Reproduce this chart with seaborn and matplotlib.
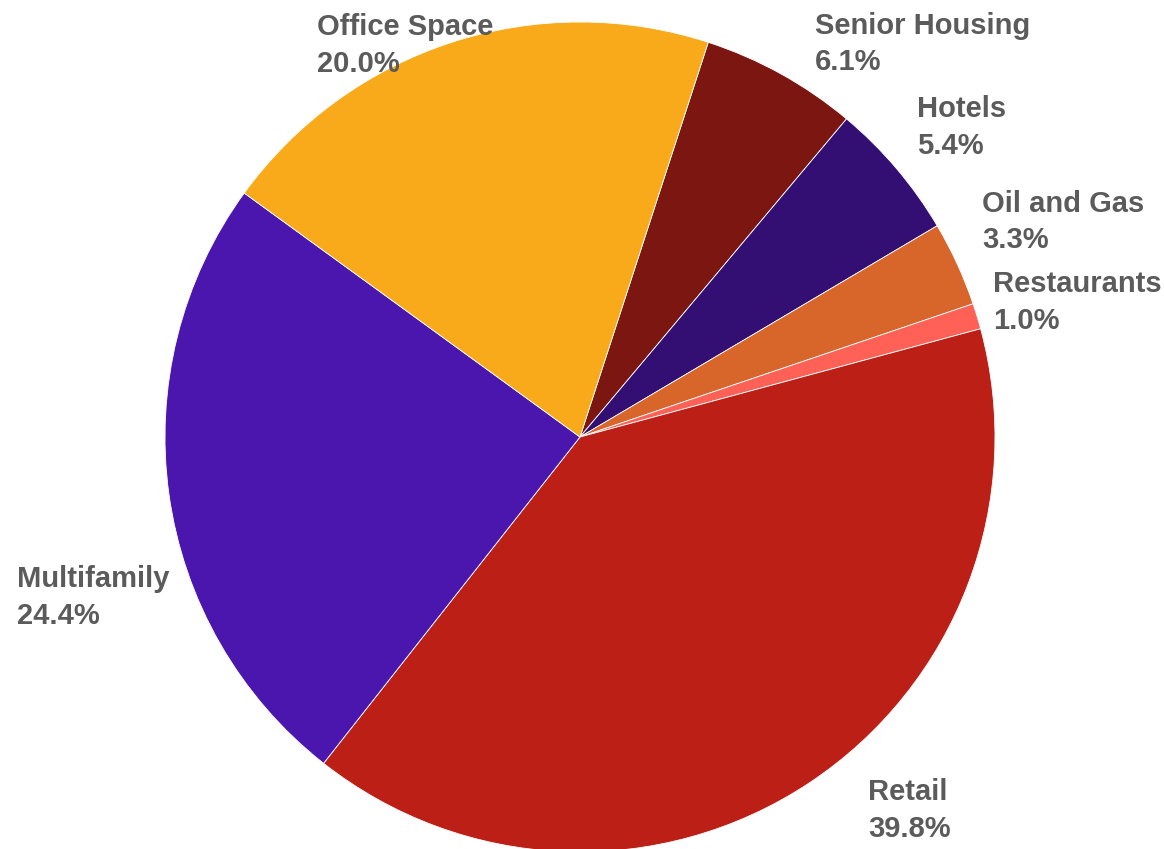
import numpy as np
import matplotlib
matplotlib.use("Agg")
import matplotlib.pyplot as plt
import seaborn as sns

sns.set_theme(style="white")
plt.rcParams["font.family"] = ["Liberation Sans", "DejaVu Sans"]

# Portfolio share by property type (percent), clockwise from the top
categories = ["Senior Housing", "Hotels", "Oil and Gas", "Restaurants",
              "Retail", "Multifamily", "Office Space"]
shares = [6.1, 5.4, 3.3, 1.0, 39.8, 24.4, 20.0]
colors = ["#7C1610", "#330E73", "#D8652A", "#FF6157",
          "#BC1F15", "#4B16AE", "#F8AA1A"]

# Label offsets (pixels) from the wedge's rim midpoint to the label's top-left
label_offsets = {
    "Senior Housing": (34, -61),
    "Hotels": (21, -72),
    "Oil and Gas": (25, -73),
    "Restaurants": (16, -45),
    "Retail": (59, -4),
    "Multifamily": (-152, 72),
    "Office Space": (-135, -28),
}

W, H, DPI = 1164, 849, 100
cx, cy, R = 580, 437, 415  # pie centre and radius in pixels

fig = plt.figure(figsize=(W / DPI, H / DPI), dpi=DPI)
ax = fig.add_axes([0, 0, 1, 1])
ax.axis("off")

start = 72.0
wedges, _ = ax.pie(shares, colors=colors, startangle=start, counterclock=False,
                   radius=1.0, center=(0, 0),
                   wedgeprops=dict(edgecolor="white", linewidth=0.6))
ax.set_xlim(-cx / R, (W - cx) / R)
ax.set_ylim(-(H - cy) / R, cy / R)
ax.set_aspect("auto")

for w, name, val in zip(wedges, categories, shares):
    mid = np.deg2rad((w.theta1 + w.theta2) / 2.0)
    rim = (np.cos(mid), np.sin(mid))
    dx, dy = label_offsets[name]
    ax.annotate(f"{name}\n{val:.1f}%", xy=rim, xytext=(dx, -dy + 1),
                textcoords="offset pixels", ha="left", va="top",
                fontsize=21, fontweight="bold", color="#5B5B5B",
                linespacing=1.38)

fig.savefig("out.png", dpi=DPI, facecolor="white")
